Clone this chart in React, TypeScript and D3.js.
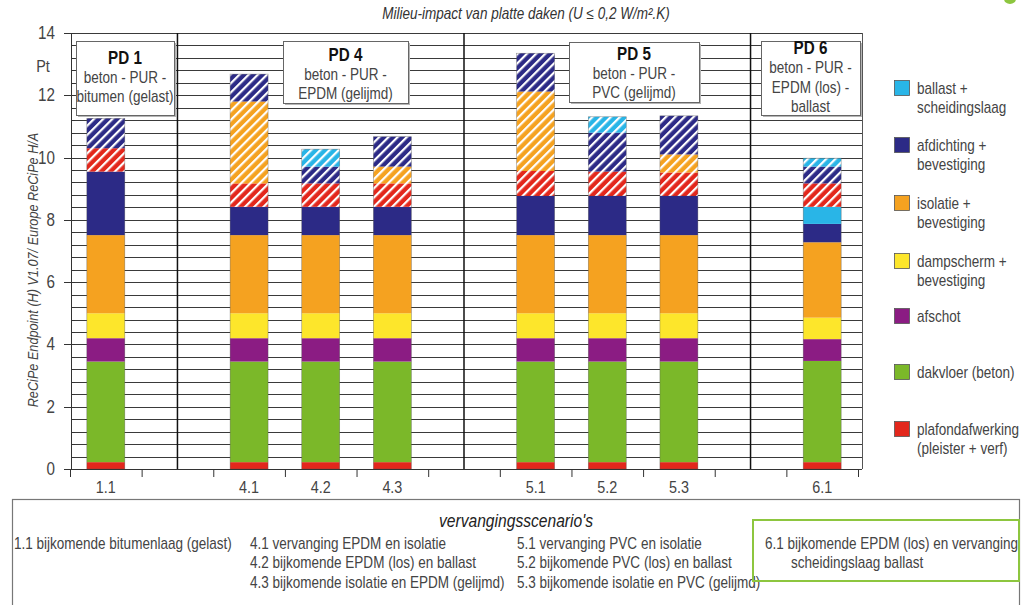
import React from "react";
import * as d3 from "d3";

// ---- data ----
const slots = ["1.1", "_a", "4.1", "4.2", "4.3", "_b", "5.1", "5.2", "5.3", "_c", "6.1"];
const scenarios = ["1.1", "4.1", "4.2", "4.3", "5.1", "5.2", "5.3", "6.1"];

const plafondafwerking = [0.22, 0.22, 0.22, 0.22, 0.22, 0.22, 0.22, 0.22];
const dakvloer = [3.23, 3.23, 3.23, 3.23, 3.23, 3.23, 3.23, 3.25];
const afschot = [0.75, 0.75, 0.75, 0.75, 0.75, 0.75, 0.75, 0.7];
const dampscherm = [0.8, 0.8, 0.8, 0.8, 0.8, 0.8, 0.8, 0.69];
const isolatie = [2.51, 2.51, 2.51, 2.51, 2.51, 2.51, 2.51, 2.42];
const afdichting = [2.04, 0.91, 0.91, 0.91, 1.26, 1.26, 1.26, 0.59];
const ballast = [0, 0, 0, 0, 0, 0, 0, 0.55];
const gearceerdRood = [0.75, 0.75, 0.75, 0.75, 0.8, 0.78, 0.75, 0.75];
const gearceerdIsolatie = [0, 2.63, 0, 0.54, 2.55, 0, 0.58, 0];
const gearceerdAfdichting = [0.96, 0.88, 0.54, 0.96, 1.23, 1.25, 1.24, 0.54];
const gearceerdBallast = [0, 0, 0.56, 0, 0, 0.51, 0, 0.27];

const yTicks = [0, 2, 4, 6, 8, 10, 12, 14];

const legendItems = [
  { key: "ballast", lines: ["ballast +", "scheidingslaag"] },
  { key: "afdichting", lines: ["afdichting +", "bevestiging"] },
  { key: "isolatie", lines: ["isolatie +", "bevestiging"] },
  { key: "dampscherm", lines: ["dampscherm +", "bevestiging"] },
  { key: "afschot", lines: ["afschot"] },
  { key: "dakvloer", lines: ["dakvloer (beton)"] },
  { key: "plafondafwerking", lines: ["plafondafwerking", "(pleister + verf)"] },
];

const pdBoxes = [
  { title: "PD 1", lines: ["beton - PUR -", "bitumen (gelast)"] },
  { title: "PD 4", lines: ["beton - PUR -", "EPDM (gelijmd)"] },
  { title: "PD 5", lines: ["beton - PUR -", "PVC (gelijmd)"] },
  { title: "PD 6", lines: ["beton - PUR -", "EPDM (los) -", "ballast"] },
];

const scenarioCol1 = ["1.1 bijkomende bitumenlaag (gelast)"];
const scenarioCol2 = [
  "4.1 vervanging EPDM en isolatie",
  "4.2 bijkomende EPDM (los) en ballast",
  "4.3 bijkomende isolatie en EPDM (gelijmd)",
];
const scenarioCol3 = [
  "5.1 vervanging PVC en isolatie",
  "5.2 bijkomende PVC (los) en ballast",
  "5.3 bijkomende isolatie en PVC (gelijmd)",
];
const scenarioCol4 = ["6.1 bijkomende EPDM (los) en vervanging", "scheidingslaag ballast"];

// ---- styling ----
const colors: Record<string, string> = {
  plafondafwerking: "#e3271c",
  dakvloer: "#7bb829",
  afschot: "#8b1c83",
  dampscherm: "#fde62b",
  isolatie: "#f5a220",
  afdichting: "#2c2a86",
  ballast: "#29b5e7",
  gearceerdRood: "#e3271c",
  gearceerdIsolatie: "#f5a220",
  gearceerdAfdichting: "#2c2a86",
  gearceerdBallast: "#29b5e7",
};

const seriesKeys = [
  "plafondafwerking",
  "dakvloer",
  "afschot",
  "dampscherm",
  "isolatie",
  "afdichting",
  "ballast",
  "gearceerdRood",
  "gearceerdIsolatie",
  "gearceerdAfdichting",
  "gearceerdBallast",
];
const seriesArrays: Record<string, number[]> = {
  plafondafwerking,
  dakvloer,
  afschot,
  dampscherm,
  isolatie,
  afdichting,
  ballast,
  gearceerdRood,
  gearceerdIsolatie,
  gearceerdAfdichting,
  gearceerdBallast,
};

const FONT = "'Liberation Sans', Arial, sans-serif";
const NARROW = 0.845;

function T(props: {
  x: number;
  y: number;
  size: number;
  anchor?: string;
  italic?: boolean;
  bold?: boolean;
  fill?: string;
  rotate?: number;
  children: React.ReactNode;
}) {
  const { x, y, size, anchor = "start", italic, bold, fill = "#444", rotate = 0, children } = props;
  return (
    <text
      transform={`translate(${x},${y}) rotate(${rotate}) scale(${NARROW},1)`}
      textAnchor={anchor}
      fontSize={size}
      fontStyle={italic ? "italic" : "normal"}
      fontWeight={bold ? "bold" : "normal"}
      fill={fill}
    >
      {children}
    </text>
  );
}

export default function App() {
  const W = 1026;
  const H = 605;
  const plotLeft = 71;
  const plotRight = 862;
  const x = d3.scaleBand<string>().domain(slots).range([70, 858]).paddingInner(0).paddingOuter(0);
  const y = d3.scaleLinear().domain([0, 14]).range([469, 33]);
  const barW = x.bandwidth() * 0.53;

  const table = scenarios.map((s, i) => {
    const row: any = { scenario: s };
    seriesKeys.forEach((k) => (row[k] = seriesArrays[k][i]));
    return row;
  });
  const stacked = d3.stack<any>().keys(seriesKeys)(table);

  const grid = d3.range(0, 14.0001, 0.4);
  const gaps = slots.filter((s) => s.startsWith("_"));

  const boxGeom = [
    { x0: 76, x1: 174, y0: 41, y1: 115, ty: [58, 77, 96] },
    { x0: 283, x1: 408, y0: 41, y1: 103, ty: [55, 74, 93] },
    { x0: 569, x1: 699, y0: 42, y1: 102, ty: [54, 73, 92] },
    { x0: 761, x1: 860, y0: 41, y1: 115, ty: [48, 67, 87, 106] },
  ];

  const legendY = [88, 145, 203, 261, 316, 372, 429];

  return (
    <svg
      width={W}
      height={H}
      style={{ position: "absolute", left: 0, top: 0, background: "#fff" }}
      fontFamily={FONT}
    >
      <defs>
        {seriesKeys
          .filter((k) => k.startsWith("gearceerd"))
          .map((k) => (
            <pattern
              key={k}
              id={"hatch-" + k}
              patternUnits="userSpaceOnUse"
              width={6.5}
              height={6.5}
              patternTransform="rotate(45)"
            >
              <rect width={6.5} height={6.5} fill={colors[k]} />
              <rect x={0} y={0} width={2.2} height={6.5} fill="#ffffff" />
            </pattern>
          ))}
      </defs>

      {/* title */}
      <T x={526} y={19} size={16} anchor="middle" italic fill="#333">
        Milieu-impact van platte daken (U ≤ 0,2 W/m².K)
      </T>
      <ellipse cx={1010} cy={-1} rx={6} ry={5} fill="#8dc63f" />

      {/* grid lines */}
      {grid.map((g, i) => (
        <line
          key={i}
          x1={plotLeft}
          x2={plotRight}
          y1={Math.round(y(g)) + 0.5}
          y2={Math.round(y(g)) + 0.5}
          stroke="#3a3a3a"
          strokeWidth={1}
        />
      ))}
      {grid.map((g, i) => (
        <line
          key={"mt" + i}
          x1={plotLeft}
          x2={plotLeft + 4}
          y1={Math.round(y(g)) + 0.5}
          y2={Math.round(y(g)) + 0.5}
          stroke="#333"
        />
      ))}
      {/* y axis */}
      <line x1={plotLeft + 0.5} x2={plotLeft + 0.5} y1={y(14)} y2={y(0)} stroke="#333" />
      <line x1={plotRight + 0.5} x2={plotRight + 0.5} y1={y(14)} y2={y(0)} stroke="#555" />
      {yTicks.map((t) => (
        <g key={t}>
          <line
            x1={plotLeft - 7}
            x2={plotLeft}
            y1={Math.round(y(t)) + 0.5}
            y2={Math.round(y(t)) + 0.5}
            stroke="#333"
          />
          <T x={55} y={y(t) + 6} size={18} anchor="end">
            {t}
          </T>
        </g>
      ))}
      <T x={43} y={72} size={17} anchor="middle">
        Pt
      </T>
      <T x={38} y={270} size={15} anchor="middle" italic rotate={-90}>
        ReCiPe Endpoint (H) V1.07/ Europe ReCiPe H/A
      </T>

      {/* separators */}
      {gaps.map((g) => {
        const cx = (x(g) as number) + x.bandwidth() / 2;
        return (
          <line key={g} x1={cx} x2={cx} y1={y(14)} y2={y(0)} stroke="#111" strokeWidth={1.5} />
        );
      })}

      {/* PD boxes */}
      {pdBoxes.map((b, i) => {
        const g = boxGeom[i];
        return (
          <g key={b.title}>
            <rect x={g.x0 + 2} y={g.y0 + 2} width={g.x1 - g.x0} height={g.y1 - g.y0} fill="#b5b5b5" />
            <rect
              x={g.x0 + 0.5}
              y={g.y0 + 0.5}
              width={g.x1 - g.x0}
              height={g.y1 - g.y0}
              fill="#fff"
              stroke="#666"
            />
            <T x={(g.x0 + g.x1) / 2} y={g.ty[0] + 6} size={18} anchor="middle" bold fill="#111">
              {b.title}
            </T>
            {b.lines.map((l, j) => (
              <T key={j} x={(g.x0 + g.x1) / 2} y={g.ty[j + 1] + 5.5} size={16} anchor="middle">
                {l}
              </T>
            ))}
          </g>
        );
      })}

      {/* bars */}
      {stacked.map((layer) => (
        <g key={layer.key}>
          {layer.map((d, i) => {
            const v = d[1] - d[0];
            if (v <= 0) return null;
            const cx = (x(scenarios[i]) as number) + x.bandwidth() / 2;
            const fill = layer.key.startsWith("gearceerd") ? `url(#hatch-${layer.key})` : colors[layer.key];
            return (
              <rect
                key={i}
                x={cx - barW / 2}
                y={y(d[1])}
                width={barW}
                height={y(d[0]) - y(d[1])}
                fill={fill}
              />
            );
          })}
        </g>
      ))}
      {scenarios.map((s, i) => {
        const top = stacked[stacked.length - 1][i][1];
        const cx = (x(s) as number) + x.bandwidth() / 2;
        return (
          <rect
            key={s}
            x={cx - barW / 2}
            y={y(top)}
            width={barW}
            height={y(0) - y(top)}
            fill="none"
            stroke="#555"
            strokeWidth={0.6}
            strokeOpacity={0.6}
          />
        );
      })}

      {/* x axis */}
      <line x1={70} x2={858} y1={469.5} y2={469.5} stroke="#333" />
      {[...slots.map((s) => x(s) as number), 858].map((px, i) => (
        <line key={i} x1={px + 0.5} x2={px + 0.5} y1={469} y2={477} stroke="#333" />
      ))}
      {slots
        .filter((s) => !s.startsWith("_"))
        .map((s) => (
          <T key={s} x={(x(s) as number) + x.bandwidth() / 2} y={493} size={17} anchor="middle">
            {s}
          </T>
        ))}

      {/* legend */}
      {legendItems.map((it, i) => (
        <g key={it.key}>
          <rect
            x={894.5}
            y={legendY[i] - 7.5}
            width={15}
            height={15}
            fill={colors[it.key]}
            stroke="#555"
            strokeWidth={0.8}
          />
          {it.lines.map((l, j) => (
            <T key={j} x={917} y={legendY[i] + 5.5 + j * 19} size={16}>
              {l}
            </T>
          ))}
        </g>
      ))}

      {/* scenario table */}
      <rect x={12.5} y={499.5} width={1007} height={120} fill="#fff" stroke="#777" strokeWidth={1.2} />
      <T x={516} y={527} size={18.5} anchor="middle" italic fill="#222">
        vervangingsscenario's
      </T>
      {scenarioCol1.map((l, i) => (
        <T key={l} x={14} y={548.5 + i * 19.5} size={16}>
          {l}
        </T>
      ))}
      {scenarioCol2.map((l, i) => (
        <T key={l} x={250} y={548.5 + i * 19.5} size={16}>
          {l}
        </T>
      ))}
      {scenarioCol3.map((l, i) => (
        <T key={l} x={517} y={548.5 + i * 19.5} size={16}>
          {l}
        </T>
      ))}
      {scenarioCol4.map((l, i) => (
        <T key={l} x={i === 0 ? 765 : 791} y={548.5 + i * 19.5} size={16}>
          {l}
        </T>
      ))}
      <rect x={753} y={520} width={266} height={61} fill="none" stroke="#8dc63f" strokeWidth={2} />
    </svg>
  );
}
